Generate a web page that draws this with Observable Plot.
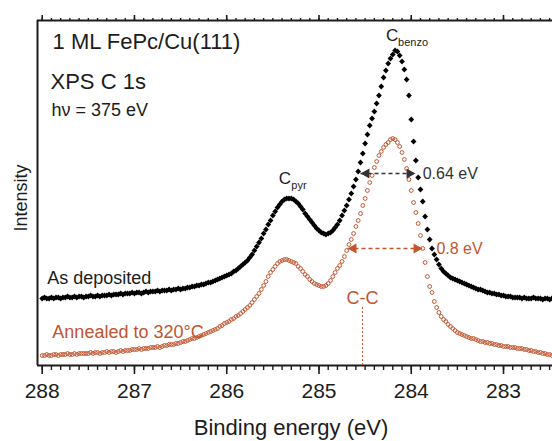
<!DOCTYPE html>
<html><head><meta charset="utf-8">
<script src="https://cdn.jsdelivr.net/npm/d3@7"></script>
<script src="https://cdn.jsdelivr.net/npm/@observablehq/plot@0.6"></script>
<style>html,body{margin:0;padding:0;background:#fff;}</style>
</head><body><div id="chart"></div>
<script>
// Binding-energy sampling grid of the spectra (eV)
const energyStart = 288.0;
const energyStep = 0.025;

// As deposited (black), intensity in arbitrary units, 10 points per row
const asDeposited = [
  67,68,67,67,68,67,68,68,67,68,
  68,69,68,68,69,68,69,69,68,69,
  69,70,69,69,70,69,70,70,70,71,
  70,71,71,71,72,71,72,72,72,73,
  72,73,73,72,73,74,73,74,74,74,
  75,74,75,75,75,76,75,76,76,77,
  76,77,77,78,78,79,79,80,80,81,
  81,82,83,83,84,85,86,87,88,89,
  90,91,92,94,95,97,99,101,103,105,
  108,111,115,119,123,127,132,136,141,145,
  150,154,158,161,164,166,167,167,167,166,
  164,162,159,156,152,149,146,143,140,137,
  135,133,132,131,132,133,135,138,141,145,
  150,155,160,166,172,179,186,194,203,212,
  222,231,240,247,254,262,270,279,288,295,
  302,307,311,315,314,310,304,296,286,270,
  246,224,205,188,176,164,149,136,126,117,
  111,106,101,97,94,92,90,88,87,86,
  85,84,83,82,81,80,79,78,77,76,
  76,75,74,73,73,72,72,71,71,70,
  70,69,69,69,68,68,68,68,67,68,
  67,67,67,68,67,67,67,66,67,67,
  66,67
];

// Annealed to 320 °C (orange)
const annealed = [
  10,10,11,10,10,11,11,10,11,11,
  11,12,11,11,12,11,12,12,12,12,
  12,13,12,13,13,12,13,13,14,13,
  14,14,13,14,15,14,15,15,15,16,
  16,16,17,16,17,17,17,18,18,18,
  19,18,19,20,20,21,21,21,22,22,
  23,24,24,25,26,27,27,28,29,30,
  31,32,33,34,35,36,37,39,40,42,
  43,44,46,47,49,50,52,54,56,58,
  60,63,66,69,72,76,80,84,89,93,
  96,99,102,104,105,106,106,105,104,103,
  102,99,97,94,91,89,86,84,82,81,
  80,79,79,80,82,85,89,93,97,100,
  104,109,115,121,126,132,139,145,152,160,
  167,175,183,190,198,204,210,214,218,221,
  223,226,227,226,223,219,213,206,197,186,
  175,163,153,142,130,117,103,89,79,73,
  64,58,53,49,46,44,41,39,37,35,
  33,32,31,30,29,28,27,27,26,25,
  24,24,23,23,22,22,21,21,20,20,
  19,19,19,18,18,18,17,17,17,16,
  16,15,15,14,14,13,13,12,12,11,
  11,10
];

const majorTicks = [283, 284, 285, 286, 287, 288];
const minorTicks = d3.range(2825, 2881).map(v => v / 10);
const xDomain = [288.051, 282.469];
const yDomain = [0, 345];

// Annotations
const headerText = ["1 ML FePc/Cu(111)", "XPS C 1s"];
const headerX = [287.888, 287.91];
const headerY = [317, 277];
const photonText = ["hν = 375 eV"];
const photonX = [287.90];
const photonY = [250];
const seriesNames = ["As deposited", "Annealed to 320°C"];
const seriesNameX = [287.945, 287.89];
const seriesNameY = [82, 27.5];
const peakMain = ["C", "C"];
const peakMainX = [284.274, 285.437];
const peakMainY = [325, 182];
const peakSub = ["benzo", "pyr"];
const peakSubX = [284.143, 285.30];
const peakSubY = [320, 177];
const widthText = ["0.64 eV", "0.8 eV"];
const widthTextX = [283.876, 283.727];
const widthTextY = [187, 112];
const arrowX1 = [284.550, 284.691];
const arrowX2 = [283.954, 283.878];
const arrowY = [192, 117];
const ccText = ["C-C"];
const ccX = [284.528];
const ccLabelY = [62];
const ccLineTop = [58];

const ink = "#1c1c1c";
const gray = "#333333";
const rust = "#c0552f";
const font = "'Liberation Sans', Arial, Helvetica, sans-serif";

const toRows = arr => arr.map((v, i) => ({energy: +(energyStart - i * energyStep).toFixed(3), intensity: v}));
const blackData = toRows(asDeposited);
const orangeData = toRows(annealed);
const arrows = [
  {x1: arrowX1[0], x2: arrowX2[0], y: arrowY[0], color: gray},
  {x1: arrowX1[1], x2: arrowX2[1], y: arrowY[1], color: rust}
];
const texts = (t, xs, ys) => t.map((s, i) => ({text: s, x: xs[i], y: ys[i]}));
const tickOnly = {fill: "none", stroke: ink, label: null};

const plot = Plot.plot({
  width: 552, height: 441,
  marginLeft: 37, marginRight: 0, marginTop: 20, marginBottom: 76,
  style: {fontFamily: font, background: "white", color: ink},
  x: {domain: xDomain, label: null},
  y: {domain: yDomain, axis: null, label: null},
  marks: [
    Plot.ruleY([yDomain[0]], {stroke: ink, strokeWidth: 2}),
    Plot.ruleY([yDomain[1]], {stroke: ink, strokeWidth: 2}),
    Plot.ruleX([xDomain[0]], {stroke: ink, strokeWidth: 2}),
    Plot.axisX({ticks: majorTicks, anchor: "bottom", tickSize: 9, tickPadding: 9, fontSize: 21, strokeWidth: 1.6, color: ink, label: null, tickFormat: d => String(d)}),
    Plot.axisX({ticks: minorTicks, anchor: "bottom", tickSize: 5, strokeWidth: 1.4, ...tickOnly}),
    Plot.axisX({ticks: majorTicks, anchor: "top", tickSize: 6, strokeWidth: 1.6, ...tickOnly}),
    Plot.axisX({ticks: minorTicks, anchor: "top", tickSize: 3, strokeWidth: 1.4, ...tickOnly}),
    // data
    Plot.dot(blackData, {x: "energy", y: "intensity", symbol: "square", rotate: 45, r: 2.3, fill: "#000", stroke: "none"}),
    Plot.dot(orangeData, {x: "energy", y: "intensity", r: 1.9, stroke: rust, fill: "none", strokeWidth: 1}),
    // width arrows
    Plot.link(arrows, {x1: "x1", x2: "x2", y1: "y", y2: "y", stroke: d => d.color, strokeWidth: 1.5, strokeDasharray: "4,3"}),
    Plot.dot(arrows, {x: "x1", y: "y", symbol: "triangle", rotate: -90, r: 3.8, fill: d => d.color, stroke: "none", dx: 6}),
    Plot.dot(arrows, {x: "x2", y: "y", symbol: "triangle", rotate: 90, r: 3.8, fill: d => d.color, stroke: "none", dx: -6}),
    // C-C marker
    Plot.ruleX(ccX, {y1: 0, y2: ccLineTop[0], stroke: rust, strokeWidth: 1, strokeDasharray: "2,2"}),
    Plot.text(texts(ccText, ccX, ccLabelY), {x: "x", y: "y", text: "text", textAnchor: "middle", lineAnchor: "bottom", fontSize: 18, fill: rust}),
    // texts
    Plot.text(texts(headerText, headerX, headerY), {x: "x", y: "y", text: "text", textAnchor: "start", lineAnchor: "bottom", fontSize: 22, fill: ink}),
    Plot.text(texts(photonText, photonX, photonY), {x: "x", y: "y", text: "text", textAnchor: "start", lineAnchor: "bottom", fontSize: 18, fill: ink}),
    Plot.text(texts(seriesNames.slice(0,1), seriesNameX.slice(0,1), seriesNameY.slice(0,1)), {x: "x", y: "y", text: "text", textAnchor: "start", lineAnchor: "bottom", fontSize: 18, fill: ink}),
    Plot.text(texts(seriesNames.slice(1), seriesNameX.slice(1), seriesNameY.slice(1)), {x: "x", y: "y", text: "text", textAnchor: "start", lineAnchor: "bottom", fontSize: 18, fill: rust}),
    Plot.text(texts(peakMain, peakMainX, peakMainY), {x: "x", y: "y", text: "text", textAnchor: "start", lineAnchor: "bottom", fontSize: 17, fill: ink}),
    Plot.text(texts(peakSub, peakSubX, peakSubY), {x: "x", y: "y", text: "text", textAnchor: "start", lineAnchor: "bottom", fontSize: 11, fill: ink}),
    Plot.text(texts(widthText.slice(0,1), widthTextX.slice(0,1), widthTextY.slice(0,1)), {x: "x", y: "y", text: "text", textAnchor: "start", lineAnchor: "bottom", fontSize: 16, fill: gray}),
    Plot.text(texts(widthText.slice(1), widthTextX.slice(1), widthTextY.slice(1)), {x: "x", y: "y", text: "text", textAnchor: "start", lineAnchor: "bottom", fontSize: 16, fill: rust}),
    // axis titles
    Plot.text(["Binding energy (eV)"], {frameAnchor: "bottom", textAnchor: "middle", dy: 69, dx: -4, lineAnchor: "bottom", fontSize: 22, fill: ink}),
    Plot.text(["Intensity"], {frameAnchor: "left", textAnchor: "middle", rotate: -90, dx: -11, dy: 5, lineAnchor: "bottom", fontSize: 18, fill: ink})
  ]
});
document.getElementById("chart").appendChild(plot);
</script>
</body></html>
